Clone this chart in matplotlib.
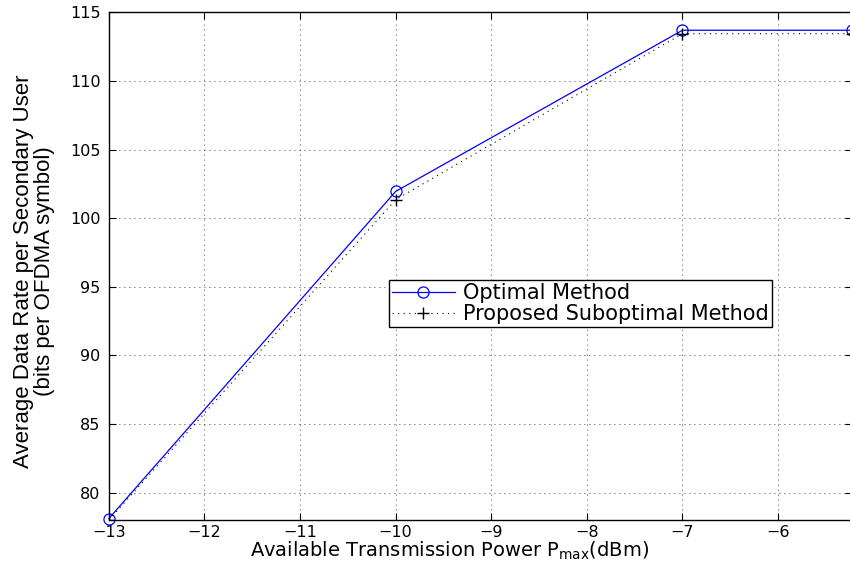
import matplotlib
matplotlib.use("Agg")
import matplotlib.pyplot as plt

# Available power levels (dBm) and average data rates
p_max = [-13, -10, -7, -5.23]
rate_optimal = [78.1, 101.95, 113.7, 113.7]
rate_suboptimal = [78.0, 101.35, 113.45, 113.45]

x_ticks = [-13, -12, -11, -10, -9, -8, -7, -6]
y_ticks = [80, 85, 90, 95, 100, 105, 110, 115]

plt.rcParams["font.family"] = ["DejaVu Sans"]

fig = plt.figure(figsize=(8.5, 5.64), dpi=100)
ax = fig.add_axes([0.128, 0.078, 0.874, 0.9])

ax.plot(p_max, rate_optimal, color="blue", lw=0.9, marker="o", ms=8,
        mfc="none", mec="blue", mew=0.9, label="Optimal Method",
        clip_on=False, zorder=3)
ax.plot(p_max, rate_suboptimal, color="black", lw=0.8, ls=(0, (1, 4)),
        marker="+", ms=9, mew=1.0, label="Proposed Suboptimal Method",
        zorder=3)

ax.set_xlim(-13, -5.23)
ax.set_ylim(78, 115)
ax.set_xticks(x_ticks)
ax.set_yticks(y_ticks)
ax.set_xticklabels([f"\u2212{abs(v)}" for v in x_ticks])
ax.grid(True, color="black", ls=(0, (1, 5)), lw=0.6)
ax.tick_params(direction="in", top=True, right=True, labelsize=11.5,
               length=5)
ax.tick_params(axis="x", pad=3.5)
ax.tick_params(axis="y", pad=6)
for s in ax.spines.values():
    s.set_linewidth(1.0)

ax.set_xlabel(r"Available Transmission Power P$_{\mathregular{max}}$(dBm)",
              fontsize=14)
ax.xaxis.set_label_coords(0.458, -0.039)
ax.set_ylabel("Average Data Rate per Secondary User\n(bits per OFDMA symbol)",
              fontsize=16, family=["Liberation Sans", "DejaVu Sans"],
              linespacing=1.0)
ax.yaxis.set_label_coords(-0.072, 0.49)

leg = ax.legend(loc="center", bbox_to_anchor=(0.635, 0.426), fontsize=15,
                fancybox=False, edgecolor="black", framealpha=1,
                handlelength=3.0, borderpad=0.15, labelspacing=0.05,
                handletextpad=0.4, borderaxespad=0)
leg.get_frame().set_linewidth(1.0)

fig.savefig("out.png", dpi=100)
